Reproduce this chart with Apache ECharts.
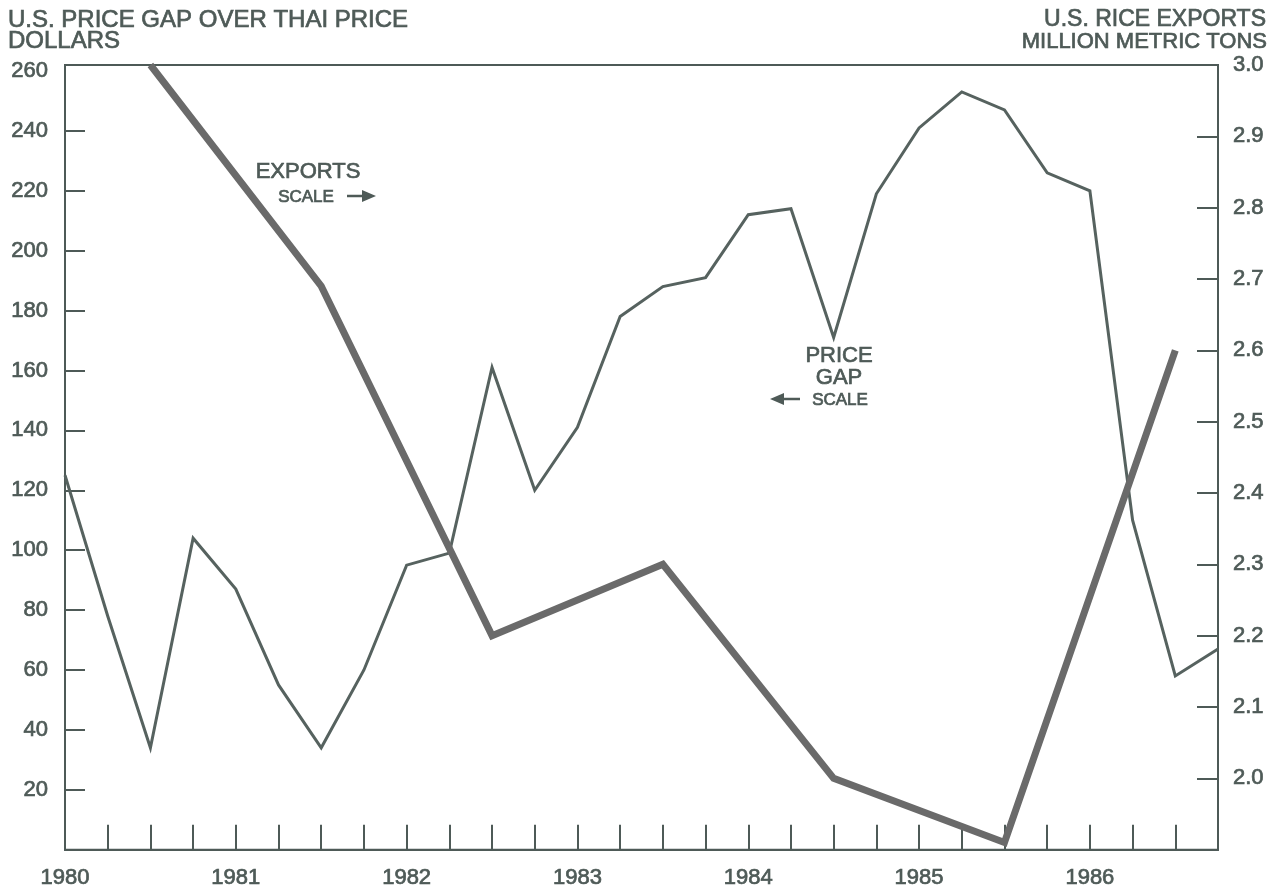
<!DOCTYPE html>
<html>
<head>
<meta charset="utf-8">
<script src="https://cdn.jsdelivr.net/npm/echarts@6/dist/echarts.min.js"></script>
<style>
html,body{margin:0;padding:0;background:#fff;}
#chart{width:1276px;height:889px;}
</style>
</head>
<body>
<div id="chart"></div>
<script>
// Quarterly x positions (years)
const quarters = [1980, 1980.25, 1980.5, 1980.75, 1981, 1981.25, 1981.5, 1981.75,
  1982, 1982.25, 1982.5, 1982.75, 1983, 1983.25, 1983.5, 1983.75,
  1984, 1984.25, 1984.5, 1984.75, 1985, 1985.25, 1985.5, 1985.75,
  1986, 1986.25, 1986.5, 1986.75];
// U.S. price gap over Thai price, dollars
const priceGap = [125, 78, 34, 104, 87, 55, 34, 60,
  95, 99, 161, 120, 141, 178, 188, 191,
  212, 214, 171, 219, 241, 253, 247, 226,
  220, 110, 58, 67];
// U.S. rice exports, million metric tons (mid-year)
const exportYears = [1980.5, 1981.5, 1982.5, 1983.5, 1984.5, 1985.5, 1986.5];
const exportsMMT = [3.0, 2.69, 2.2, 2.3, 2.0, 1.91, 2.6];

// Tick labels
const yearLabels = [1980, 1981, 1982, 1983, 1984, 1985, 1986];
const quarterTicks = [1980.25, 1980.5, 1980.75, 1981, 1981.25, 1981.5, 1981.75,
  1982, 1982.25, 1982.5, 1982.75, 1983, 1983.25, 1983.5, 1983.75,
  1984, 1984.25, 1984.5, 1984.75, 1985, 1985.25, 1985.5, 1985.75,
  1986, 1986.25, 1986.5];
const leftLabels = [20, 40, 60, 80, 100, 120, 140, 160, 180, 200, 220, 240, 260];
const leftTicks = [20, 40, 60, 80, 100, 120, 140, 160, 180, 200, 220, 240];
const rightLabels = [2.0, 2.1, 2.2, 2.3, 2.4, 2.5, 2.6, 2.7, 2.8, 2.9, 3.0];
const rightTicks = [2.0, 2.1, 2.2, 2.3, 2.4, 2.5, 2.6, 2.7, 2.8, 2.9];

const ink = '#4e5a57';
const font = 'Liberation Sans, Arial, Helvetica, sans-serif';

const chart = echarts.init(document.getElementById('chart'), null, {renderer: 'canvas'});

const lbl = {color: ink, fontSize: 22, fontFamily: font, textBorderColor: ink, textBorderWidth: 0.7};
function txt(x, y, s, size, align) {
  return {type: 'text', x: x, y: y, style: {text: s, fill: ink, font: size + 'px ' + font,
    align: align || 'center', verticalAlign: 'middle', stroke: ink, lineWidth: 0.7}};
}

const option = {
  backgroundColor: '#ffffff',
  animation: false,
  grid: {left: 65, right: 58, top: 65, bottom: 39, show: true, borderColor: ink, borderWidth: 2, backgroundColor: 'transparent'},
  xAxis: {
    type: 'value', min: 1980, max: 1986.75,
    splitLine: {show: false},
    axisLine: {show: true, lineStyle: {color: ink, width: 2}},
    axisTick: {show: true, inside: true, length: 25, lineStyle: {color: ink, width: 2}, customValues: quarterTicks},
    axisLabel: Object.assign({margin: 17, customValues: yearLabels, formatter: v => String(v)}, lbl)
  },
  yAxis: [
    {
      type: 'value', min: 0, max: 262, position: 'left',
      splitLine: {show: false},
      axisLine: {show: true, lineStyle: {color: ink, width: 2}},
      axisTick: {show: true, inside: true, length: 20, lineStyle: {color: ink, width: 2}, customValues: leftTicks},
      axisLabel: Object.assign({margin: 17, customValues: leftLabels, formatter: v => String(v)}, lbl)
    },
    {
      type: 'value', min: 1.9, max: 3.0, position: 'right',
      splitLine: {show: false},
      axisLine: {show: true, lineStyle: {color: ink, width: 2}},
      axisTick: {show: true, inside: true, length: 21, lineStyle: {color: ink, width: 2}, customValues: rightTicks},
      axisLabel: Object.assign({margin: 15, customValues: rightLabels, formatter: v => v.toFixed(1)}, lbl)
    }
  ],
  series: [
    {
      name: 'Price gap', type: 'line', yAxisIndex: 0,
      data: quarters.map((q, i) => [q, priceGap[i]]),
      symbol: 'none', clip: false,
      lineStyle: {color: '#56625f', width: 3, join: 'miter'}
    },
    {
      name: 'Exports', type: 'line', yAxisIndex: 1,
      data: exportYears.map((q, i) => [q, exportsMMT[i]]),
      symbol: 'none', clip: false,
      lineStyle: {color: '#6a6a6a', width: 7, join: 'miter'}
    }
  ],
  graphic: [
    txt(8, 20, 'U.S. PRICE GAP OVER THAI PRICE', 24, 'left'),
    txt(8, 41, 'DOLLARS', 24, 'left'),
    txt(1266, 20, 'U.S. RICE EXPORTS', 23, 'right'),
    txt(1267, 42, 'MILLION METRIC TONS', 22, 'right'),
    txt(308, 172, 'EXPORTS', 22),
    txt(306, 197, 'SCALE', 17),
    {type: 'line', shape: {x1: 347, y1: 196, x2: 366, y2: 196}, style: {stroke: ink, lineWidth: 2.5}},
    {type: 'polygon', shape: {points: [[376, 196], [362, 190], [362, 202]]}, style: {fill: ink}},
    txt(839, 356, 'PRICE', 22),
    txt(839, 378, 'GAP', 22),
    txt(840, 400, 'SCALE', 17),
    {type: 'line', shape: {x1: 780, y1: 399, x2: 800, y2: 399}, style: {stroke: ink, lineWidth: 2.5}},
    {type: 'polygon', shape: {points: [[770, 399], [784, 393], [784, 405]]}, style: {fill: ink}}
  ]
};
chart.setOption(option);
</script>
</body>
</html>
